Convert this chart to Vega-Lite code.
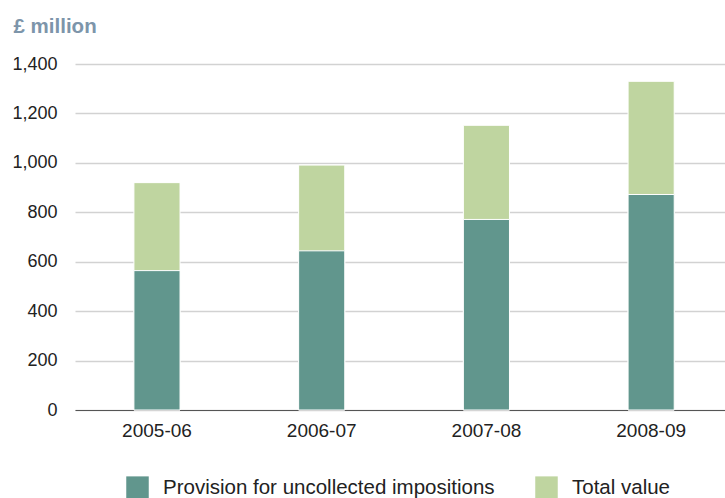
{
  "$schema": "https://vega.github.io/schema/vega-lite/v6.json",
  "width": 650,
  "height": 346,
  "autosize": {"type": "none"},
  "padding": {"left": 75, "top": 64, "right": 0, "bottom": 88},
  "background": "white",
  "config": {
    "view": {"stroke": null},
    "font": "Liberation Sans"
  },
  "data": {
    "values": [
      {"year": "2005-06", "series": "Total value", "value": 920},
      {"year": "2006-07", "series": "Total value", "value": 991},
      {"year": "2007-08", "series": "Total value", "value": 1152},
      {"year": "2008-09", "series": "Total value", "value": 1330},
      {"year": "2005-06", "series": "Provision for uncollected impositions", "value": 564},
      {"year": "2006-07", "series": "Provision for uncollected impositions", "value": 644},
      {"year": "2007-08", "series": "Provision for uncollected impositions", "value": 771},
      {"year": "2008-09", "series": "Provision for uncollected impositions", "value": 872}
    ]
  },
  "mark": {"type": "bar", "stroke": "white", "strokeWidth": 1},
  "encoding": {
    "x": {
      "field": "year",
      "type": "nominal",
      "sort": null,
      "scale": {"paddingInner": 0.72, "paddingOuter": 0.333, "align": 0.537},
      "axis": {
        "title": null,
        "labelAngle": 0,
        "labelFontSize": 19,
        "labelColor": "#222222",
        "labelPadding": 11,
        "ticks": false,
        "domainColor": "#555555",
        "domainWidth": 1
      }
    },
    "y": {
      "field": "value",
      "type": "quantitative",
      "stack": null,
      "scale": {"domain": [0, 1400], "nice": false},
      "axis": {
        "values": [0, 200, 400, 600, 800, 1000, 1200, 1400],
        "format": ",d",
        "title": "£ million",
        "titleAngle": 0,
        "titleAlign": "left",
        "titleBaseline": "alphabetic",
        "titleX": -62,
        "titleY": -32,
        "titleFontSize": 20.5,
        "titleFontWeight": "bold",
        "titleColor": "#7d95aa",
        "labelFontSize": 18,
        "labelColor": "#222222",
        "labelPadding": 18,
        "ticks": false,
        "domain": false,
        "gridColor": "#d2d2d2",
        "gridWidth": 1.3
      }
    },
    "color": {
      "field": "series",
      "type": "nominal",
      "scale": {
        "domain": ["Provision for uncollected impositions", "Total value"],
        "range": ["#61968d", "#bfd5a0"]
      },
      "legend": {
        "title": null,
        "orient": "none",
        "direction": "horizontal",
        "legendX": 51,
        "legendY": 412,
        "padding": 0,
        "symbolType": "square",
        "symbolSize": 506,
        "symbolStrokeWidth": 0,
        "labelFontSize": 20.5,
        "labelColor": "#222222",
        "labelOffset": 14,
        "labelLimit": 500,
        "columnPadding": 40
      }
    }
  }
}
